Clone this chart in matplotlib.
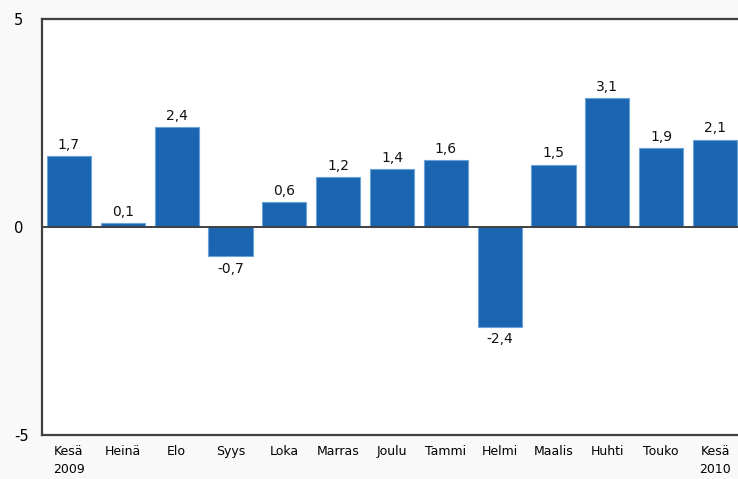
import matplotlib
matplotlib.use("Agg")
import matplotlib.pyplot as plt

months = ["Kesä\n2009", "Heinä", "Elo", "Syys", "Loka", "Marras", "Joulu",
          "Tammi", "Helmi", "Maalis", "Huhti", "Touko", "Kesä\n2010"]
values = [1.7, 0.1, 2.4, -0.7, 0.6, 1.2, 1.4, 1.6, -2.4, 1.5, 3.1, 1.9, 2.1]
yticks = [-5, 0, 5]

W, H = 738, 479
fig = plt.figure(figsize=(W / 100, H / 100), dpi=100, facecolor="#f9f9f9")
ax = fig.add_axes([42 / W, 44 / H, 700 / W, 416 / H])
ax.set_facecolor("white")

x = list(range(len(values)))
ax.bar(x, values, width=0.82, color="#1a64b0", edgecolor="#6aa3d8", linewidth=0.8, zorder=2)
ax.axhline(0, color="#404040", linewidth=1.4, zorder=3)

for xi, v in zip(x, values):
    lbl = f"{v:.1f}".replace(".", ",")
    if v >= 0:
        ax.annotate(lbl, (xi, v), xytext=(0, 3), textcoords="offset points",
                    ha="center", va="bottom", fontsize=10, color="#111111")
    else:
        ax.annotate(lbl, (xi, v), xytext=(0, -4), textcoords="offset points",
                    ha="center", va="top", fontsize=10, color="#111111")

ax.set_xlim(-0.5, len(values) - 0.5)
ax.set_ylim(-5, 5)
ax.set_yticks(yticks)
ax.set_yticklabels([str(t) for t in yticks], fontsize=10.5)
ax.set_xticks(x)
ax.set_xticklabels(months, fontsize=9, linespacing=1.55)
ax.tick_params(axis="x", length=0, pad=7)
ax.tick_params(axis="y", length=0, pad=0)
for lab in ax.get_yticklabels():
    lab.set_horizontalalignment("left")
    lab.set_x(-28 / 700)

ax.spines["right"].set_visible(False)
for s in ["left", "top", "bottom"]:
    ax.spines[s].set_color("#404040")
    ax.spines[s].set_linewidth(1.6)

fig.savefig("out.png", dpi=100, facecolor=fig.get_facecolor())
